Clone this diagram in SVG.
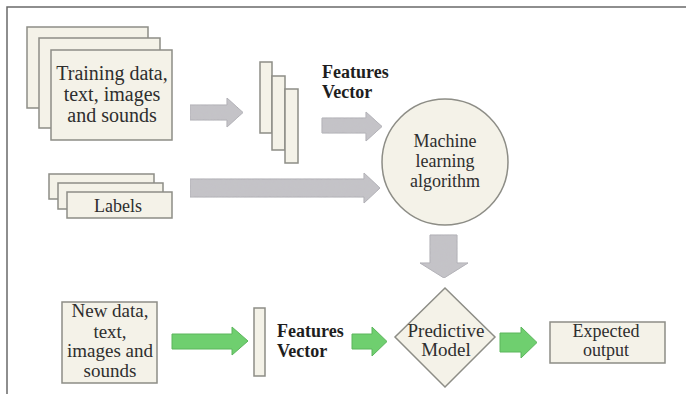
<svg xmlns="http://www.w3.org/2000/svg" width="686" height="394" viewBox="0 0 686 394">
  <style>
    .box { fill: #f4f2e8; stroke: #8d8d86; stroke-width: 1.5; }
    .lbl { font-size: 18px; fill: #2e2e2e; text-anchor: middle; }
    .big { font-size: 20px; }
    .mid { font-size: 19px; }
    .bold { font-size: 18px; font-weight: bold; fill: #1e1e1e; }
    .grey { fill: #c4c3c8; stroke: #aeadb3; stroke-width: 1; }
    .green { fill: #6fcf6f; stroke: #5cb65c; stroke-width: 1; }
  </style>
  <defs>
    <!-- mottled stone texture for the grey block arrows -->
    <filter id="stone" x="0" y="0" width="100%" height="100%">
      <feTurbulence type="fractalNoise" baseFrequency="0.35" numOctaves="2" seed="4" result="noise"/>
      <feColorMatrix in="noise" type="matrix" values="0 0 0 0 0.55  0 0 0 0 0.55  0 0 0 0 0.57  0 0 0 0.9 -0.2" result="speck"/>
      <feComposite in="speck" in2="SourceGraphic" operator="in" result="clip"/>
      <feMerge><feMergeNode in="SourceGraphic"/><feMergeNode in="clip"/></feMerge>
    </filter>
  </defs>

  <rect width="686" height="394" fill="#ffffff"/>
  <!-- frame -->
  <path d="M7,394 V7 H686" fill="none" stroke="#6a6a6a" stroke-width="1.5"/>

  <g font-family="Liberation Serif, Times New Roman, serif">
  <g id="training-data">
    <rect class="box" x="27" y="27" width="121" height="81"/>
    <rect class="box" x="39" y="38" width="121" height="90"/>
    <rect class="box" x="51" y="50" width="121" height="90"/>
    <text class="lbl big" x="112" y="80">Training data,</text>
    <text class="lbl big" x="112" y="101">text, images</text>
    <text class="lbl big" x="112" y="122">and sounds</text>
  </g>

  <g id="labels">
    <rect class="box" x="49" y="174" width="105" height="25"/>
    <rect class="box" x="58" y="183" width="105" height="26"/>
    <rect class="box" x="67" y="192" width="105" height="26"/>
    <text class="lbl" x="118" y="212">Labels</text>
  </g>

  <g id="features-vector-train">
    <rect class="box" x="260" y="62" width="12" height="71"/>
    <rect class="box" x="272" y="76" width="13" height="74"/>
    <rect class="box" x="285" y="89" width="13" height="74"/>
    <text class="bold" x="322" y="78">Features</text>
    <text class="bold" x="322" y="98">Vector</text>
  </g>

  <g id="ml-algorithm">
    <circle class="box" cx="445" cy="162" r="63"/>
    <text class="lbl" x="445" y="147">Machine</text>
    <text class="lbl" x="445" y="167">learning</text>
    <text class="lbl" x="445" y="187">algorithm</text>
  </g>

  <g id="new-data">
    <rect class="box" x="62" y="302" width="95" height="81"/>
    <text class="lbl mid" x="110" y="317">New data,</text>
    <text class="lbl mid" x="110" y="338">text,</text>
    <text class="lbl mid" x="110" y="357">images and</text>
    <text class="lbl mid" x="110" y="377">sounds</text>
  </g>

  <g id="features-vector-new">
    <rect class="box" x="254" y="308" width="11" height="68"/>
    <text class="bold" x="277" y="337">Features</text>
    <text class="bold" x="277" y="357">Vector</text>
  </g>

  <g id="predictive-model">
    <polygon class="box" points="445,288 495,337 445,387 395,337"/>
    <text class="lbl mid" x="446" y="337">Predictive</text>
    <text class="lbl mid" x="446" y="356">Model</text>
  </g>

  <g id="expected-output">
    <rect class="box" x="550" y="322" width="115" height="41"/>
    <text class="lbl" x="606" y="337">Expected</text>
    <text class="lbl" x="606" y="356">output</text>
  </g>
  </g>

  <g id="connectors">
    <!-- grey training-phase arrows -->
    <g filter="url(#stone)">
      <path class="grey" d="M190,105 H227 V98 L243,112.5 L227,127 V120 H190 Z"/>
      <path class="grey" d="M322,118 H366 V112 L382,126.5 L366,141 V133 H322 Z"/>
      <path class="grey" d="M190,179 H364 V173 L380,188 L364,203 V197 H190 Z"/>
      <path class="grey" d="M430,235 H457 V263 H468 L444,278 L420,263 H430 Z"/>
    </g>
    <!-- green prediction-phase arrows -->
    <path class="green" d="M172,334 H232 V327 L248,341 L232,355 V349 H172 Z"/>
    <path class="green" d="M352,334 H372 V327 L387,341.5 L372,356 V349 H352 Z"/>
    <path class="green" d="M500,333 H521 V327 L537,342.5 L521,358 V352 H500 Z"/>
  </g>
</svg>
